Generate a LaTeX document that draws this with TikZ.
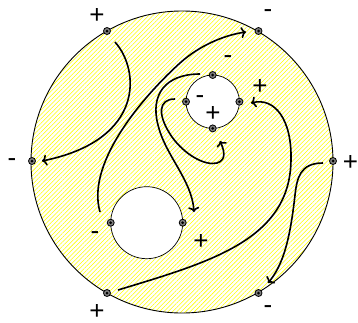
\documentclass[tikz,border=0pt]{standalone}
\usepackage{fontspec}
\setmainfont{Liberation Sans}
\usetikzlibrary{patterns.meta,arrows.meta}
\tikzset{
  mk/.style={circle, draw=black, fill=gray, line width=0.8pt, minimum size=7pt, inner sep=0pt,
    path picture={\fill[black] (path picture bounding box.center) circle (1.5pt);}},
  sg/.style={inner sep=0pt, font=\fontsize{26}{30}\selectfont},
  arr/.style={-{To[length=5pt,width=11pt]}, line width=1.6pt},
  rim/.style={draw=black, line width=0.9pt},
}
\begin{document}
\begin{tikzpicture}[x=1pt,y=-1pt]
\useasboundingbox (0,0) rectangle (358,322);
\coordinate (O) at (182,162);
\coordinate (S) at (212.7,101.7);
\coordinate (B) at (146.7,222.7);
% hatched region
\fill[pattern={Lines[angle=45,distance=3.1pt,line width=0.55pt]}, pattern color=yellow, even odd rule]
  (O) circle (151) (S) circle (26.7) (B) circle (36);
\draw[rim] (O) circle (151);
\draw[rim, line width=0.7pt] (S) circle (26.7);
\draw[rim, line width=0.7pt] (B) circle (36);
% arrows
\draw[arr] (115,42) .. controls (140,70) and (145,140) .. (42,161);
\draw[arr] (100,212) .. controls (85,160) and (150,90) .. (180,63) .. controls (200,45) and (225,35) .. (246,32);
\draw[arr] (200,74) .. controls (165,74) and (150,95) .. (158,125) .. controls (165,155) and (192,180) .. (194,212);
\draw[arr] (175,99) .. controls (158,99) and (157,115) .. (172,137) .. controls (185,155) and (205,166) .. (217,163) .. controls (227,160) and (224,150) .. (220,141);
\draw[arr] (118,290) .. controls (210,262) and (290,240) .. (291,160) .. controls (292,120) and (275,97) .. (251,103);
\draw[arr] (323,163) .. controls (300,163) and (297,178) .. (295,195) .. controls (290,240) and (283,265) .. (268,283);
% markers
\node[mk] (o1) at (107,31) {};
\node[mk] (o2) at (258.5,31) {};
\node[mk] (o3) at (32,161) {};
\node[mk] (o4) at (333,161) {};
\node[mk] (o5) at (107,293) {};
\node[mk] (o6) at (258.5,293) {};
\node[mk] (s1) at (212.7,75) {};
\node[mk] (s2) at (186,101.7) {};
\node[mk] (s3) at (239.4,101.7) {};
\node[mk] (s4) at (212.7,128.4) {};
\node[mk] (b1) at (110.7,222.7) {};
\node[mk] (b2) at (182.7,222.7) {};
% labels
\node[sg] (l1) at (97,16) {+};
\node[sg] (l2) at (268,14) {-};
\node[sg] (l3) at (12,163) {-};
\node[sg] (l4) at (350.5,163) {+};
\node[sg] (l5) at (97,312) {+};
\node[sg] (l6) at (268,310) {-};
\node[sg] (l7) at (200,100) {-};
\node[sg] (l8) at (213,114) {+};
\node[sg] (l9) at (228,60) {-};
\node[sg] (l10) at (260,87) {+};
\node[sg] (l11) at (95,236) {-};
\node[sg] (l12) at (201,242) {+};
\end{tikzpicture}
\end{document}
